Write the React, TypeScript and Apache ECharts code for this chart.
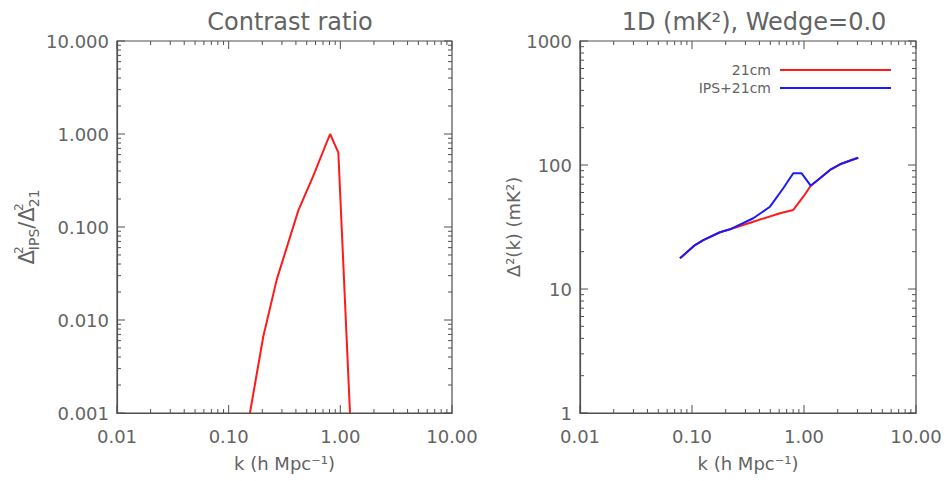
import React, { useEffect, useRef } from "react";
import * as echarts from "echarts";

// ---- data ----
const K_RATIO = [0.155, 0.204, 0.269, 0.42, 0.57, 0.81, 0.96, 1.22];
const RATIO = [0.001, 0.0066, 0.027, 0.15, 0.35, 1.0, 0.63, 0.001];

const K_IPS = [0.0781, 0.1064, 0.1262, 0.1778, 0.2184, 0.3525, 0.497, 0.653, 0.802, 0.953, 1.148, 1.389, 1.706, 2.096, 2.666, 3.05];
const P_IPS = [17.69, 22.6, 24.8, 28.7, 30.3, 37.2, 46.1, 64.9, 85.7, 85.7, 68.1, 78.1, 91.2, 101.3, 109.7, 114.5];

const K_21 = [0.0781, 0.1064, 0.1262, 0.1778, 0.2184, 0.3525, 0.6105, 0.802, 0.986, 1.148, 1.389, 1.706, 2.096, 2.666, 3.05];
const P_21 = [17.69, 22.6, 24.8, 28.7, 30.3, 34.9, 40.8, 43.4, 55.5, 68.1, 78.1, 91.2, 101.3, 109.7, 114.5];

const X_MIN = 0.01;
const X_MAX = 10;
const Y1_MIN = 0.001;
const Y1_MAX = 10;
const Y2_MIN = 1;
const Y2_MAX = 1000;

const TITLE_LEFT = "Contrast ratio";
const TITLE_RIGHT = "1D (mK²), Wedge=0.0";
const X_NAME = "k (h Mpc⁻¹)";
const Y_NAME_RIGHT = "Δ²(k) (mK²)";
const NAME_21 = "21cm";
const NAME_IPS = "IPS+21cm";

const TEXT_COLOR = "#636363";
const AXIS_COLOR = "#505050";
const FONT = "DejaVu Sans";

function logTicks(min: number, max: number) {
  const out: [number, number][] = [];
  const e0 = Math.round(Math.log10(min));
  const e1 = Math.round(Math.log10(max));
  for (let e = e0; e <= e1; e++) {
    const base = Math.pow(10, e);
    for (let m = 1; m <= 9; m++) {
      const v = m * base;
      if (v > max * 1.0001) break;
      out.push([v, m === 1 ? 1 : 0]);
    }
  }
  return out;
}

function tickGraphics(chart: any, gridIndex: number, xmin: number, xmax: number, ymin: number, ymax: number) {
  const els: any[] = [];
  const style = { stroke: AXIS_COLOR, lineWidth: 1 };
  const finder = { gridIndex };
  logTicks(xmin, xmax).forEach(([v, maj]) => {
    const len = maj ? 8 : 4;
    const pb = chart.convertToPixel(finder, [v, ymin]);
    const pt = chart.convertToPixel(finder, [v, ymax]);
    els.push({ type: "line", silent: true, shape: { x1: pb[0], y1: pb[1], x2: pb[0], y2: pb[1] - len }, style });
    els.push({ type: "line", silent: true, shape: { x1: pt[0], y1: pt[1], x2: pt[0], y2: pt[1] + len }, style });
  });
  logTicks(ymin, ymax).forEach(([v, maj]) => {
    const len = maj ? 8 : 4;
    const pl = chart.convertToPixel(finder, [xmin, v]);
    const pr = chart.convertToPixel(finder, [xmax, v]);
    els.push({ type: "line", silent: true, shape: { x1: pl[0], y1: pl[1], x2: pl[0] + len, y2: pl[1] }, style });
    els.push({ type: "line", silent: true, shape: { x1: pr[0], y1: pr[1], x2: pr[0] - len, y2: pr[1] }, style });
  });
  return els;
}

const labelStyle = { color: TEXT_COLOR, fontFamily: FONT, fontSize: 18 };

function xAxis(gridIndex: number) {
  return {
    type: "log",
    gridIndex,
    logBase: 10,
    min: X_MIN,
    max: X_MAX,
    name: X_NAME,
    nameLocation: "middle",
    nameGap: 41,
    nameTextStyle: { color: TEXT_COLOR, fontFamily: FONT, fontSize: 18 },
    axisLine: { show: true, lineStyle: { color: AXIS_COLOR, width: 1.2 } },
    axisTick: { show: false },
    splitLine: { show: false },
    minorTick: { show: false },
    axisLabel: { ...labelStyle, margin: 14, formatter: (v: number) => v.toFixed(2) },
  };
}

export default function App() {
  const ref = useRef<HTMLDivElement>(null);
  useEffect(() => {
    if (!ref.current) return;
    const chart = echarts.init(ref.current, null, { renderer: "svg" });
    const option: any = {
      animation: false,
      backgroundColor: "#ffffff",
      title: [
        {
          text: TITLE_LEFT,
          left: 285,
          top: 5,
          textAlign: "center",
          textStyle: { color: TEXT_COLOR, fontFamily: FONT, fontSize: 24, fontWeight: "normal" },
        },
        {
          text: TITLE_RIGHT,
          left: 749,
          top: 5,
          textAlign: "center",
          textStyle: { color: TEXT_COLOR, fontFamily: FONT, fontSize: 24, fontWeight: "normal" },
        },
      ],
      legend: {
        data: [NAME_21, NAME_IPS],
        orient: "vertical",
        align: "right",
        right: 57,
        top: 63,
        padding: 0,
        itemWidth: 111,
        itemHeight: 2,
        itemGap: 4,
        icon: "rect",
        textStyle: { color: TEXT_COLOR, fontFamily: FONT, fontSize: 14, lineHeight: 14, padding: [0, 4, 0, 0] },
      },
      grid: [
        { left: 117, top: 41, width: 335, height: 372, show: true, borderColor: AXIS_COLOR, borderWidth: 1.2 },
        { left: 580, top: 41, width: 336, height: 372, show: true, borderColor: AXIS_COLOR, borderWidth: 1.2 },
      ],
      xAxis: [xAxis(0), xAxis(1)],
      yAxis: [
        {
          type: "log",
          gridIndex: 0,
          logBase: 10,
          min: Y1_MIN,
          max: Y1_MAX,
          name: "{a|Δ}{b|2}{c|IPS}{a|/Δ}{b|2}{c|21}",
          nameLocation: "middle",
          nameGap: 76,
          nameRotate: 90,
          nameTextStyle: {
            color: TEXT_COLOR,
            fontFamily: FONT,
            rich: {
              a: { color: TEXT_COLOR, fontFamily: FONT, fontSize: 21, lineHeight: 28 },
              b: { color: TEXT_COLOR, fontFamily: FONT, fontSize: 12, verticalAlign: "top", lineHeight: 28, width: 0.01 },
              c: { color: TEXT_COLOR, fontFamily: FONT, fontSize: 14, verticalAlign: "bottom", lineHeight: 24 },
            },
          },
          axisLine: { show: true, lineStyle: { color: AXIS_COLOR, width: 1.2 } },
          axisTick: { show: false },
          splitLine: { show: false },
          axisLabel: { ...labelStyle, margin: 8, formatter: (v: number) => v.toFixed(3) },
        },
        {
          type: "log",
          gridIndex: 1,
          logBase: 10,
          min: Y2_MIN,
          max: Y2_MAX,
          name: Y_NAME_RIGHT,
          nameLocation: "middle",
          nameGap: 56,
          nameRotate: 90,
          nameTextStyle: { color: TEXT_COLOR, fontFamily: FONT, fontSize: 18 },
          axisLine: { show: true, lineStyle: { color: AXIS_COLOR, width: 1.2 } },
          axisTick: { show: false },
          splitLine: { show: false },
          axisLabel: { ...labelStyle, margin: 8, formatter: (v: number) => String(Math.round(v)) },
        },
      ],
      series: [
        {
          type: "line",
          name: "ratio",
          xAxisIndex: 0,
          yAxisIndex: 0,
          data: K_RATIO.map((k, i) => [k, RATIO[i]]),
          showSymbol: false,
          symbol: "none",
          lineStyle: { color: "#ff1a1a", width: 2 },
          itemStyle: { color: "#ff1a1a" },
          z: 3,
        },
        {
          type: "line",
          name: NAME_21,
          xAxisIndex: 1,
          yAxisIndex: 1,
          data: K_21.map((k, i) => [k, P_21[i]]),
          showSymbol: false,
          symbol: "none",
          lineStyle: { color: "#ff1a1a", width: 2 },
          itemStyle: { color: "#ff1a1a" },
          z: 3,
        },
        {
          type: "line",
          name: NAME_IPS,
          xAxisIndex: 1,
          yAxisIndex: 1,
          data: K_IPS.map((k, i) => [k, P_IPS[i]]),
          showSymbol: false,
          symbol: "none",
          lineStyle: { color: "#1a1aff", width: 2 },
          itemStyle: { color: "#1a1aff" },
          z: 4,
        },
      ],
    };
    chart.setOption(option);
    const ticks = [
      ...tickGraphics(chart, 0, X_MIN, X_MAX, Y1_MIN, Y1_MAX),
      ...tickGraphics(chart, 1, X_MIN, X_MAX, Y2_MIN, Y2_MAX),
    ];
    chart.setOption({ graphic: ticks });
    return () => chart.dispose();
  }, []);
  return (
    <div
      ref={ref}
      style={{ position: "fixed", left: 0, top: 0, width: 948, height: 481, background: "#fff" }}
    />
  );
}
